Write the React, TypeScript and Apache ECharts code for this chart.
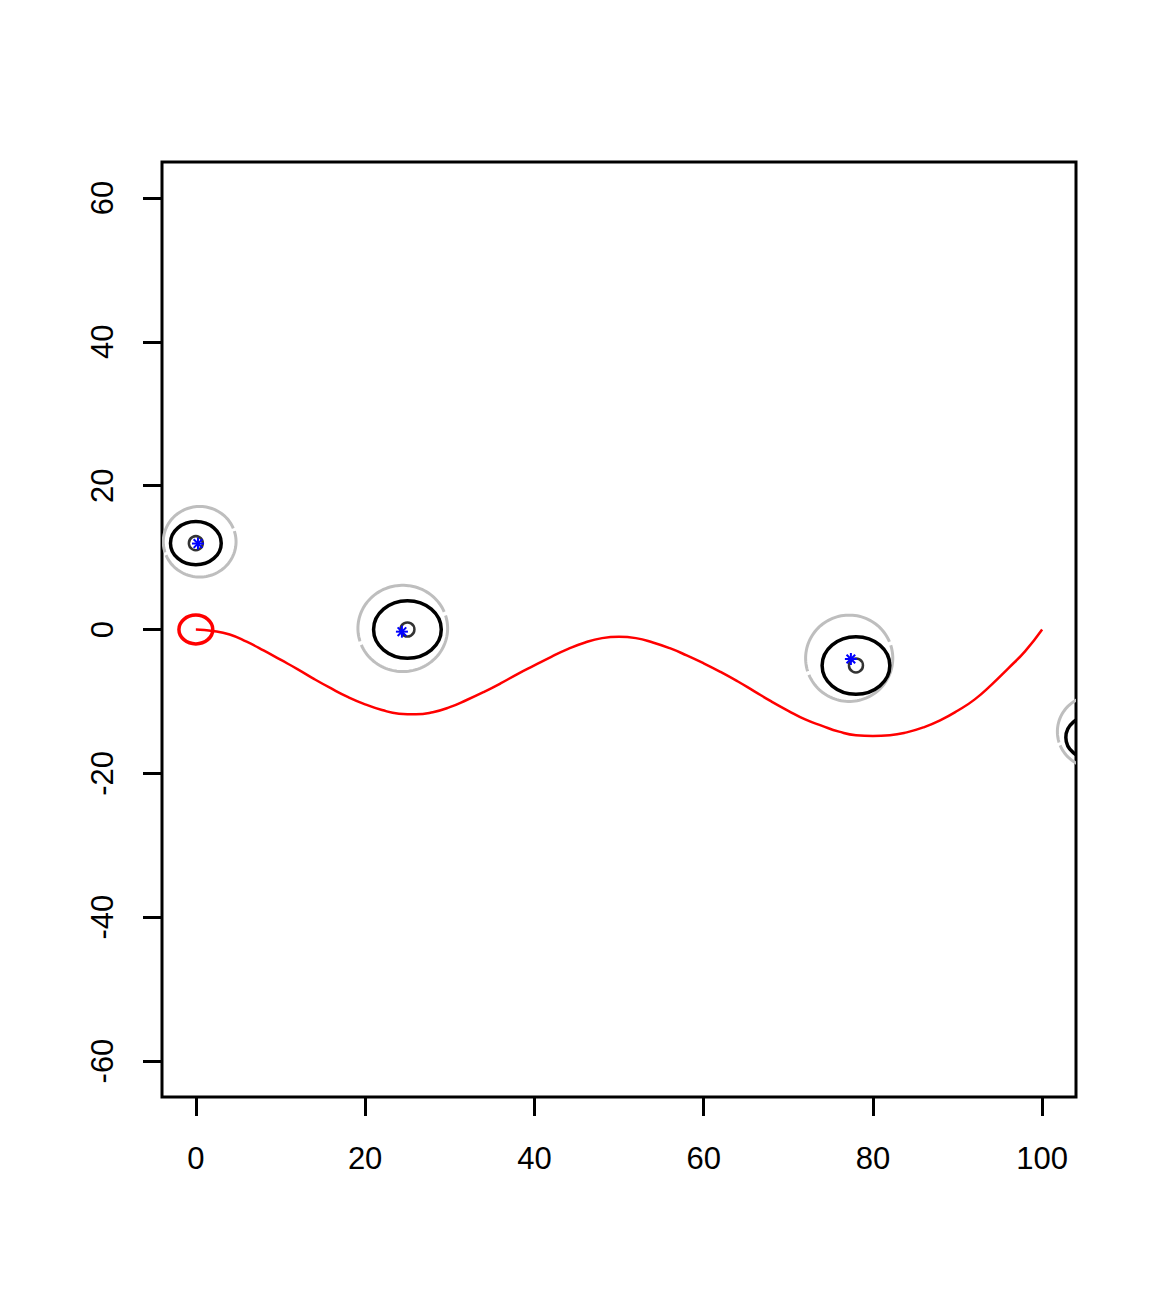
import React, { useEffect, useRef } from "react";
import * as echarts from "echarts";

// Red track (x, y)
const trackX = [0, 2, 4, 6, 8, 10, 12, 14, 16, 18, 20, 22, 24, 26, 28, 30, 32, 34, 36, 38, 40, 42, 44, 46, 48, 50, 52, 54, 56, 58, 60, 62, 64, 66, 68, 70, 72, 74, 76, 78, 80, 82, 84, 86, 88, 90, 92, 94, 96, 98, 100];
const trackY = [0, -0.2, -0.7, -1.7, -2.9, -4.2, -5.5, -6.9, -8.2, -9.4, -10.4, -11.2, -11.7, -11.8, -11.5, -10.8, -9.8, -8.7, -7.5, -6.2, -5.0, -3.8, -2.7, -1.8, -1.2, -1.0, -1.2, -1.8, -2.6, -3.6, -4.7, -5.9, -7.2, -8.6, -10.0, -11.3, -12.5, -13.4, -14.2, -14.7, -14.8, -14.7, -14.3, -13.6, -12.6, -11.3, -9.75, -7.7, -5.4, -3.0, 0];

// Red start circle
const startX = [0];
const startY = [0];
const startR = [2];

// True positions (black circles + points)
const trueX = [0, 25, 78, 105.8];
const trueY = [12, 0, -5, -15];
const trueR = [3, 4, 4, 3];

// Estimated positions (blue stars) and grey uncertainty rings
const estX = [0.25, 24.35, 77.4, 106.1];
const estY = [11.95, -0.3, -4.1, -14.3];
const ringX = [0.45, 24.45, 77.2, 106.1];
const ringY = [12.2, 0.15, -4.0, -14.2];
const ringRx = [4.3, 5.3, 5.15, 4.3];
const ringRy = [4.9, 6.0, 6.0, 5.0];

// Axis ticks
const xTicks = [0, 20, 40, 60, 80, 100];
const yTicks = [-60, -40, -20, 0, 20, 40, 60];

const FONT = "'Liberation Sans', Arial, sans-serif";

function ellipseRender(color: string, width: number) {
  return (params: any, api: any) => {
    const c = api.coord([api.value(0), api.value(1)]);
    const s = api.size([api.value(2), api.value(2)]);
    return {
      type: "ellipse",
      shape: { cx: c[0], cy: c[1], rx: s[0], ry: s[1] },
      style: { fill: "none", stroke: color, lineWidth: width },
    };
  };
}

function ringRender(params: any, api: any) {
  const c = api.coord([api.value(0), api.value(1)]);
  const s = api.size([api.value(2), api.value(3)]);
  const gaps = [20, 200];
  const half = 2.5;
  const children: any[] = [];
  for (let k = 0; k < gaps.length; k++) {
    const a0 = gaps[k] + half;
    const a1 = (k === gaps.length - 1 ? gaps[0] + 360 : gaps[k + 1]) - half;
    const pts: number[][] = [];
    for (let a = a0; a < a1; a += 3) {
      const r = (a * Math.PI) / 180;
      pts.push([c[0] + s[0] * Math.cos(r), c[1] - s[1] * Math.sin(r)]);
    }
    const r1 = (a1 * Math.PI) / 180;
    pts.push([c[0] + s[0] * Math.cos(r1), c[1] - s[1] * Math.sin(r1)]);
    children.push({
      type: "polyline",
      shape: { points: pts },
      style: { fill: "none", stroke: "#BEBEBE", lineWidth: 3 },
    });
  }
  return { type: "group", children };
}

function starRender(params: any, api: any) {
  const c = api.coord([api.value(0), api.value(1)]);
  const p = 6;
  const d = 4.3;
  const style = { stroke: "#0000FF", lineWidth: 2 };
  return {
    type: "group",
    children: [
      { type: "line", shape: { x1: c[0] - p, y1: c[1], x2: c[0] + p, y2: c[1] }, style },
      { type: "line", shape: { x1: c[0], y1: c[1] - p, x2: c[0], y2: c[1] + p }, style },
      { type: "line", shape: { x1: c[0] - d, y1: c[1] - d, x2: c[0] + d, y2: c[1] + d }, style },
      { type: "line", shape: { x1: c[0] - d, y1: c[1] + d, x2: c[0] + d, y2: c[1] - d }, style },
    ],
  };
}

export default function App() {
  const ref = useRef<HTMLDivElement>(null);
  useEffect(() => {
    if (!ref.current) return;
    const chart = echarts.init(ref.current, null, { renderer: "svg" });
    const track = trackX.map((x, i) => [x, trackY[i]]);
    const option: any = {
      animation: false,
      backgroundColor: "#FFFFFF",
      grid: {
        left: 162,
        top: 162,
        width: 914,
        height: 935,
        show: true,
        borderColor: "#000000",
        borderWidth: 3,
        backgroundColor: "transparent",
      },
      xAxis: {
        type: "value",
        min: -4,
        max: 104,
        splitLine: { show: false },
        axisLine: { show: false, onZero: false },
        axisTick: {
          show: true,
          customValues: xTicks,
          length: 19,
          inside: false,
          lineStyle: { color: "#000", width: 3 },
        },
        axisLabel: {
          customValues: xTicks,
          margin: 46,
          fontSize: 31,
          fontFamily: FONT,
          color: "#000",
        },
      },
      yAxis: {
        type: "value",
        min: -65,
        max: 65,
        splitLine: { show: false },
        axisLine: { show: false, onZero: false },
        axisTick: {
          show: true,
          customValues: yTicks,
          length: 19,
          inside: false,
          lineStyle: { color: "#000", width: 3 },
        },
        axisLabel: {
          customValues: yTicks,
          rotate: 90,
          margin: 44,
          fontSize: 31,
          fontFamily: FONT,
          color: "#000",
        },
      },
      series: [
        {
          type: "custom",
          name: "ring",
          clip: true,
          renderItem: ringRender,
          data: ringX.map((x, i) => [x, ringY[i], ringRx[i], ringRy[i]]),
          z: 2,
        },
        {
          type: "custom",
          name: "true",
          clip: true,
          renderItem: ellipseRender("#000000", 3.5),
          data: trueX.map((x, i) => [x, trueY[i], trueR[i]]),
          z: 3,
        },
        {
          type: "scatter",
          name: "truePt",
          clip: true,
          symbol: "circle",
          symbolSize: 14,
          itemStyle: { color: "rgba(0,0,0,0)", borderColor: "#000", borderWidth: 2.5 },
          data: trueX.map((x, i) => [x, trueY[i]]),
          z: 4,
        },
        {
          type: "custom",
          name: "est",
          clip: true,
          renderItem: starRender,
          data: estX.map((x, i) => [x, estY[i]]),
          z: 5,
        },
        {
          type: "line",
          name: "track",
          data: track,
          showSymbol: false,
          smooth: 0.5,
          lineStyle: { color: "#FF0000", width: 2.5 },
          z: 6,
        },
        {
          type: "custom",
          name: "start",
          clip: true,
          renderItem: ellipseRender("#FF0000", 3.5),
          data: startX.map((x, i) => [x, startY[i], startR[i]]),
          z: 6,
        },
      ],
    };
    chart.setOption(option);
    return () => chart.dispose();
  }, []);
  return (
    <div
      ref={ref}
      style={{ position: "absolute", left: 0, top: 0, width: 1160, height: 1300, background: "#fff" }}
    />
  );
}
